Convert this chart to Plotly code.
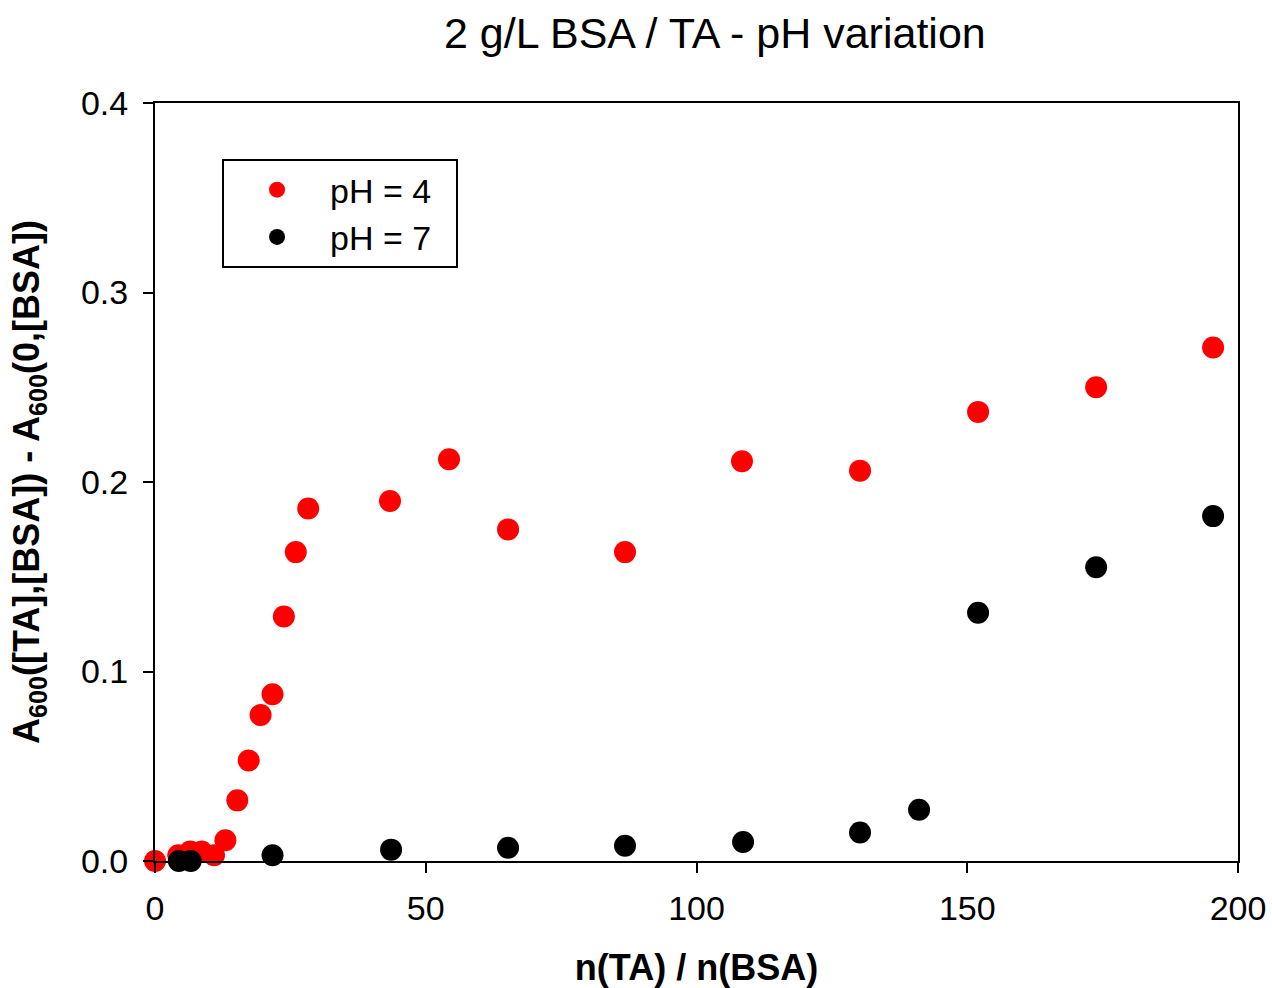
import plotly.graph_objects as go

# Data
x_ph4 = [0.0, 4.3, 6.5, 8.6, 10.9, 13.0, 15.2, 17.3, 19.5, 21.7, 23.8, 26.0, 28.3,
         43.4, 54.3, 65.2, 86.8, 108.4, 130.2, 152.0, 173.8, 195.4]
y_ph4 = [0.000, 0.003, 0.005, 0.005, 0.003, 0.011, 0.032, 0.053, 0.077, 0.088, 0.129, 0.163, 0.186,
         0.190, 0.212, 0.175, 0.163, 0.211, 0.206, 0.237, 0.250, 0.271]

x_ph7 = [4.4, 6.6, 21.7, 43.6, 65.2, 86.8, 108.6, 130.2, 141.1, 152.0, 173.8, 195.4]
y_ph7 = [0.000, 0.000, 0.003, 0.006, 0.007, 0.008, 0.010, 0.015, 0.027, 0.131, 0.155, 0.182]

series_names = ["pH = 4", "pH = 7"]
x_ticks = [0, 50, 100, 150, 200]
y_ticks = [0.0, 0.1, 0.2, 0.3, 0.4]

FONT = "Liberation Sans, Arial, sans-serif"
PAD = "\u00a0\u00a0"  # a little right padding inside the legend box

fig = go.Figure()
fig.add_trace(go.Scatter(x=x_ph4, y=y_ph4, mode="markers", name=series_names[0] + PAD,
                         marker=dict(color="#FF0000", size=22), cliponaxis=False))
fig.add_trace(go.Scatter(x=x_ph7, y=y_ph7, mode="markers", name=series_names[1] + PAD,
                         marker=dict(color="#000000", size=22), cliponaxis=False))

fig.update_layout(
    width=1272, height=988,
    margin=dict(l=155, r=34, t=103, b=127, autoexpand=False),
    paper_bgcolor="white", plot_bgcolor="white",
    font=dict(family=FONT, size=34, color="black"),
    title=dict(text="2 g/L BSA / TA - pH variation", x=0.562, xanchor="center",
               y=0.9666, yanchor="middle", font=dict(size=43)),
    legend=dict(x=0.0619, y=0.926, xanchor="left", yanchor="top",
                bordercolor="black", borderwidth=2, bgcolor="white",
                font=dict(size=34), itemwidth=96, tracegroupgap=0),
    showlegend=True,
)
fig.update_xaxes(range=[0, 200], tickvals=x_ticks, ticktext=[str(v) for v in x_ticks],
                 showgrid=False, zeroline=False, showline=True, linecolor="black", linewidth=2,
                 mirror=True, ticks="outside", ticklen=10, tickwidth=2, tickcolor="black",
                 tickfont=dict(size=34), ticklabelstandoff=6, automargin=False,
                 title=dict(text="<b>n(TA) / n(BSA)</b>", font=dict(size=36), standoff=33))
fig.update_yaxes(range=[0, 0.4], tickvals=y_ticks, ticktext=[f"{v:.1f}" for v in y_ticks],
                 showgrid=False, zeroline=False, showline=True, linecolor="black", linewidth=2,
                 mirror=True, ticks="outside", ticklen=10, tickwidth=2, tickcolor="black",
                 tickfont=dict(size=34), ticklabelstandoff=8, automargin=False,
                 title=dict(text="<b>A<sub>600</sub>([TA],[BSA]) - A<sub>600</sub>(0,[BSA])</b>",
                            font=dict(size=36), standoff=30))

fig.write_html("out.html", config={"displayModeBar": False},
               post_script="document.body.style.margin='0';document.body.style.overflow='hidden';")
